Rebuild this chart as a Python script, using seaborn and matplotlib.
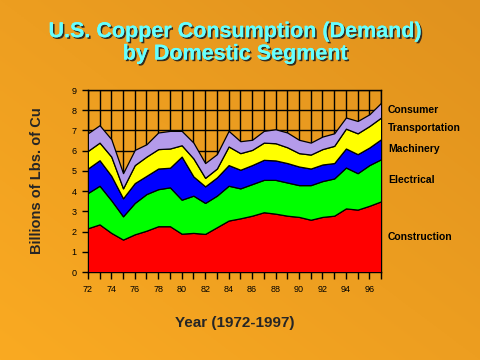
import numpy as np
import pandas as pd
import seaborn as sns
import matplotlib.pyplot as plt
import matplotlib.patheffects as pe

# --- U.S. copper consumption by domestic segment, 1972-1997 (billions of lbs) ---
years = list(range(72, 98))
segments = ['Construction', 'Electrical', 'Machinery', 'Transportation', 'Consumer']
construction = [2.17, 2.36, 1.94, 1.61, 1.87, 2.05, 2.27, 2.27, 1.90, 1.94, 1.89, 2.22, 2.55,
                2.66, 2.79, 2.96, 2.89, 2.79, 2.73, 2.59, 2.73, 2.79, 3.15, 3.09, 3.28, 3.50]
electrical = [1.74, 1.91, 1.61, 1.15, 1.55, 1.81, 1.83, 1.92, 1.68, 1.84, 1.53, 1.56, 1.72,
              1.48, 1.56, 1.60, 1.67, 1.64, 1.57, 1.71, 1.77, 1.84, 2.02, 1.80, 2.01, 2.08]
machinery = [1.21, 1.26, 1.21, 0.89, 0.98, 0.90, 1.02, 0.97, 2.13, 0.95, 0.82, 0.90, 1.02,
             0.92, 0.94, 0.99, 0.96, 0.96, 0.92, 0.82, 0.82, 0.76, 0.94, 0.94, 0.87, 0.99]
transportation = [0.87, 0.87, 0.95, 0.49, 0.89, 0.95, 0.96, 0.95, 0.56, 0.89, 0.42, 0.44, 0.92,
                  0.82, 0.75, 0.85, 0.85, 0.78, 0.66, 0.69, 0.76, 0.85, 0.98, 1.03, 1.06, 1.07]
consumer = [0.87, 0.86, 0.86, 0.75, 0.75, 0.61, 0.82, 0.87, 0.71, 0.78, 0.73, 0.71, 0.77,
            0.59, 0.50, 0.58, 0.69, 0.73, 0.66, 0.59, 0.62, 0.62, 0.55, 0.61, 0.58, 0.73]
colors = ['#FF0000', '#00FF00', '#0000FF', '#FFFF00', '#B49BEA']

df = pd.DataFrame({'year': years, 'Construction': construction, 'Electrical': electrical,
                   'Machinery': machinery, 'Transportation': transportation, 'Consumer': consumer})

sns.set_style('white')
plt.rcParams['font.family'] = ['Liberation Sans', 'DejaVu Sans']

fig = plt.figure(figsize=(4.8, 3.6), dpi=100)

# orange diagonal gradient background
bg = fig.add_axes([0, 0, 1, 1], zorder=-10)
gx, gy = np.meshgrid(np.linspace(0, 1, 200), np.linspace(0, 1, 150))
t = (gx + gy) / 2
c0 = np.array([250, 170, 34]) / 255
c1 = np.array([224, 146, 30]) / 255
img = c0[None, None, :] * (1 - t[..., None]) + c1[None, None, :] * t[..., None]
bg.imshow(img, origin='lower', aspect='auto', extent=[0, 1, 0, 1])
bg.axis('off')

ax = fig.add_axes([0.183, 0.244, 0.611, 0.506])
ax.set_facecolor('none')
ax.stackplot(df['year'], [df[s] for s in segments], colors=colors,
             edgecolor='black', linewidth=0.9, zorder=3)

ax.set_xlim(72, 97)
ax.set_ylim(0, 9)
ax.set_xticks(range(72, 97, 2))
ax.set_xticks(range(72, 98), minor=True)
ax.set_yticks(range(0, 10))
ax.set_xticklabels([str(y) for y in range(72, 97, 2)])
ax.grid(True, which='both', color='black', linewidth=1.0, zorder=1)
ax.set_axisbelow(True)
for side in ['left', 'bottom', 'right', 'top']:
    ax.spines[side].set_color('black')
    ax.spines[side].set_linewidth(1.0)
ax.tick_params(axis='x', which='both', bottom=True, direction='out', color='black',
               length=5, width=1, labelsize=6.5, labelcolor='black', pad=4)
ax.tick_params(axis='y', which='both', left=True, direction='out', color='black',
               length=4, width=1, labelsize=6.5, labelcolor='black', pad=4)

# segment labels at the right end of each band
cum = np.cumsum([df[s].iloc[-1] for s in segments])
for i, s in enumerate(segments):
    mid = cum[i] - df[s].iloc[-1] / 2
    ax.annotate(s, xy=(97, mid), xytext=(5, 0), textcoords='offset points',
                va='center', ha='left', fontsize=7.5, fontweight='bold',
                color='black', annotation_clip=False)

ax.set_xlabel('Year (1972-1997)', fontsize=11, fontweight='bold', labelpad=16)
ax.set_ylabel('Billions of Lbs. of Cu', fontsize=10.5, fontweight='bold', labelpad=20)

shadow = [pe.withSimplePatchShadow(offset=(1.2, -1.2), shadow_rgbFace='#202020', alpha=0.9),
          pe.Normal()]
for txt, yy in [('U.S. Copper Consumption (Demand)', 0.912), ('by Domestic Segment', 0.85)]:
    fig.text(0.49, yy, txt, ha='center', va='center', fontsize=15.5, fontweight='bold',
             color='#66FFFF', path_effects=shadow)

plt.savefig('out.png', dpi=100)
